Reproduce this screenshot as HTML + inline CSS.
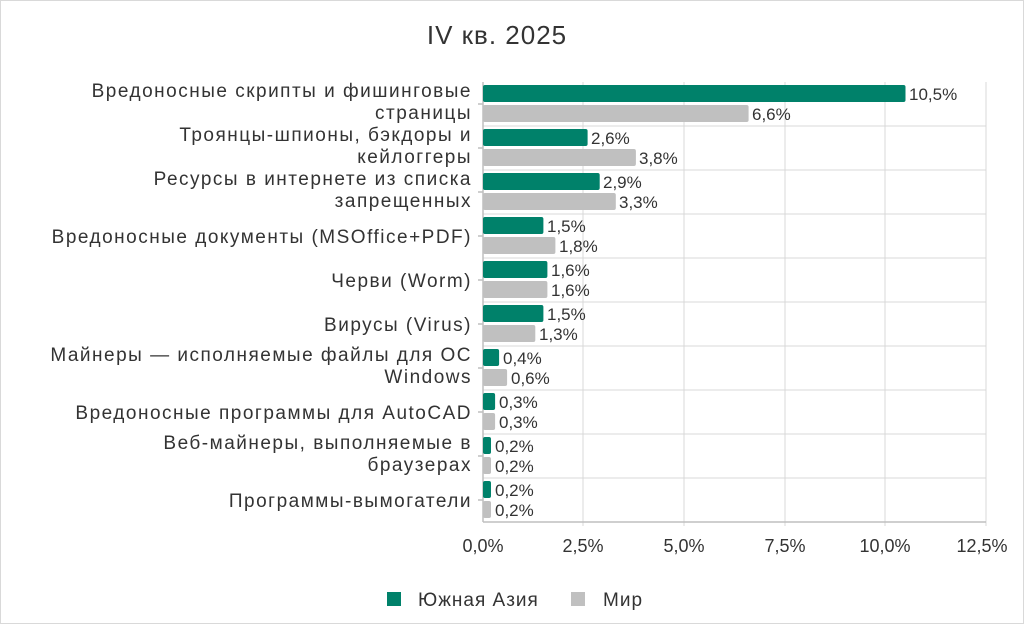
<!DOCTYPE html><html><head><meta charset="utf-8"><style>
body{margin:0;background:#fff}
svg{display:block;font-family:"Liberation Sans",sans-serif}
.l text{font-size:19px;letter-spacing:1.5px}
.v text{font-size:17px}
</style></head><body>
<svg width="1024" height="624" viewBox="0 0 1024 624">
<rect x="0.5" y="0.5" width="1023" height="623" fill="#fff" stroke="#d9d9d9"/>
<text x="497" y="44" font-size="26" letter-spacing="1" text-anchor="middle" fill="#333">IV кв. 2025</text>
<g stroke="#d9d9d9" stroke-width="1">
<line x1="583" y1="82" x2="583" y2="526"/><line x1="684" y1="82" x2="684" y2="526"/>
<line x1="785" y1="82" x2="785" y2="526"/><line x1="885" y1="82" x2="885" y2="526"/>
<line x1="986" y1="82" x2="986" y2="526"/>
<line x1="483" y1="126" x2="986" y2="126"/><line x1="483" y1="170" x2="986" y2="170"/>
<line x1="483" y1="214" x2="986" y2="214"/><line x1="483" y1="258" x2="986" y2="258"/>
<line x1="483" y1="302" x2="986" y2="302"/><line x1="483" y1="346" x2="986" y2="346"/>
<line x1="483" y1="390" x2="986" y2="390"/><line x1="483" y1="434" x2="986" y2="434"/>
<line x1="483" y1="478" x2="986" y2="478"/>
</g>
<g stroke="#bfbfbf" stroke-width="1.5">
<line x1="483" y1="82" x2="483" y2="522"/><line x1="483" y1="522" x2="986" y2="522"/>
<line x1="478" y1="104" x2="483" y2="104"/><line x1="478" y1="148" x2="483" y2="148"/>
<line x1="478" y1="192" x2="483" y2="192"/><line x1="478" y1="236" x2="483" y2="236"/>
<line x1="478" y1="280" x2="483" y2="280"/><line x1="478" y1="324" x2="483" y2="324"/>
<line x1="478" y1="368" x2="483" y2="368"/><line x1="478" y1="412" x2="483" y2="412"/>
<line x1="478" y1="456" x2="483" y2="456"/><line x1="478" y1="500" x2="483" y2="500"/>
</g>
<g>
<rect x="483" y="85" width="422.5" height="17" rx="2" fill="#00816a"/><rect x="483" y="105" width="265.6" height="17" rx="2" fill="#c0c0c0"/>
<rect x="483" y="129" width="104.6" height="17" rx="2" fill="#00816a"/><rect x="483" y="149" width="152.9" height="17" rx="2" fill="#c0c0c0"/>
<rect x="483" y="173" width="116.7" height="17" rx="2" fill="#00816a"/><rect x="483" y="193" width="132.8" height="17" rx="2" fill="#c0c0c0"/>
<rect x="483" y="217" width="60.4" height="17" rx="2" fill="#00816a"/><rect x="483" y="237" width="72.4" height="17" rx="2" fill="#c0c0c0"/>
<rect x="483" y="261" width="64.4" height="17" rx="2" fill="#00816a"/><rect x="483" y="281" width="64.4" height="17" rx="2" fill="#c0c0c0"/>
<rect x="483" y="305" width="60.4" height="17" rx="2" fill="#00816a"/><rect x="483" y="325" width="52.3" height="17" rx="2" fill="#c0c0c0"/>
<rect x="483" y="349" width="16.1" height="17" rx="2" fill="#00816a"/><rect x="483" y="369" width="24.1" height="17" rx="2" fill="#c0c0c0"/>
<rect x="483" y="393" width="12.1" height="17" rx="2" fill="#00816a"/><rect x="483" y="413" width="12.1" height="17" rx="2" fill="#c0c0c0"/>
<rect x="483" y="437" width="8" height="17" rx="2" fill="#00816a"/><rect x="483" y="457" width="8" height="17" rx="2" fill="#c0c0c0"/>
<rect x="483" y="481" width="8" height="17" rx="2" fill="#00816a"/><rect x="483" y="501" width="8" height="17" rx="2" fill="#c0c0c0"/>
</g>
<g class="v" fill="#333">
<text x="909" y="100">10,5%</text><text x="752" y="120">6,6%</text>
<text x="591" y="144">2,6%</text><text x="639" y="164">3,8%</text>
<text x="603" y="188">2,9%</text><text x="619" y="208">3,3%</text>
<text x="547" y="232">1,5%</text><text x="559" y="252">1,8%</text>
<text x="551" y="276">1,6%</text><text x="551" y="296">1,6%</text>
<text x="547" y="320">1,5%</text><text x="539" y="340">1,3%</text>
<text x="503" y="364">0,4%</text><text x="511" y="384">0,6%</text>
<text x="499" y="408">0,3%</text><text x="499" y="428">0,3%</text>
<text x="495" y="452">0,2%</text><text x="495" y="472">0,2%</text>
<text x="495" y="496">0,2%</text><text x="495" y="516">0,2%</text>
</g>
<g class="l" fill="#333" text-anchor="end">
<text x="472" y="97">Вредоносные скрипты и фишинговые</text><text x="472" y="119">страницы</text>
<text x="472" y="141">Троянцы-шпионы, бэкдоры и</text><text x="472" y="163">кейлоггеры</text>
<text x="472" y="185">Ресурсы в интернете из списка</text><text x="472" y="207">запрещенных</text>
<text x="472" y="243">Вредоносные документы (MSOffice+PDF)</text>
<text x="472" y="287">Черви (Worm)</text>
<text x="472" y="331">Вирусы (Virus)</text>
<text x="472" y="361">Майнеры — исполняемые файлы для ОС</text><text x="472" y="383">Windows</text>
<text x="472" y="419">Вредоносные программы для AutoCAD</text>
<text x="472" y="449">Веб-майнеры, выполняемые в</text><text x="472" y="471">браузерах</text>
<text x="472" y="507">Программы-вымогатели</text>
</g>
<g font-size="18" fill="#333" text-anchor="middle">
<text x="483" y="552">0,0%</text><text x="583" y="552">2,5%</text><text x="684" y="552">5,0%</text>
<text x="785" y="552">7,5%</text><text x="885" y="552">10,0%</text><text x="982" y="552">12,5%</text>
</g>
<rect x="387" y="592" width="14" height="14" fill="#00816a"/>
<text x="418" y="606" font-size="19" letter-spacing="1" fill="#333">Южная Азия</text>
<rect x="571" y="592" width="14" height="14" fill="#c0c0c0"/>
<text x="603" y="606" font-size="19" letter-spacing="1" fill="#333">Мир</text>
</svg></body></html>
